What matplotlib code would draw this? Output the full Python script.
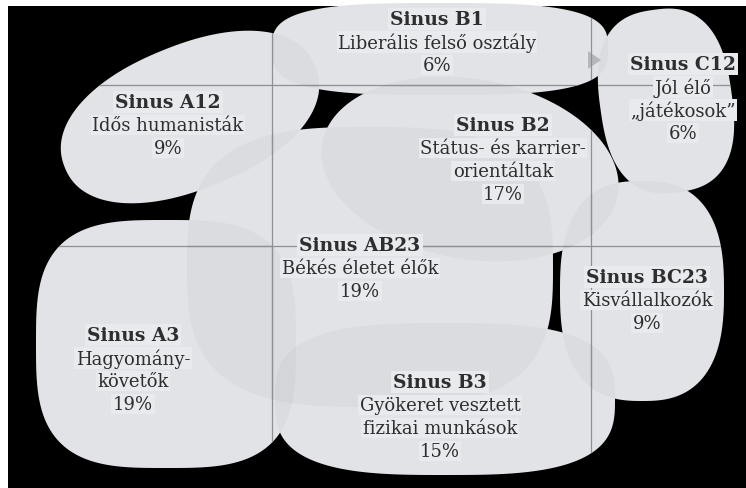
import matplotlib.pyplot as plt
import numpy as np
from matplotlib.patches import Polygon, Rectangle

# Sinus-milieuk: név, leírás, arány
segments = ['Sinus A12', 'Sinus B1', 'Sinus C12', 'Sinus B2',
            'Sinus AB23', 'Sinus A3', 'Sinus B3', 'Sinus BC23']
descriptions = ['Idős humanisták', 'Liberális felső osztály',
                'Jól élő\n„játékosok”', 'Státus- és karrier-\norientáltak',
                'Békés életet élők', 'Hagyomány-\nkövetők',
                'Gyökeret vesztett\nfizikai munkások', 'Kisvállalkozók']
shares = [9, 6, 6, 17, 19, 19, 15, 9]

# blob geometry (pixels): cx, cy, half-width, half-height, exponent, rotation
blobs = [
    (190, 118, 135, 72, 2.2, -22),
    (440, 50, 168, 46, 3.2, 0),
    (666, 102, 66, 92, 2.6, -8),
    (470, 170, 150, 90, 2.0, 10),
    (370, 268, 183, 140, 3.0, 0),
    (166, 345, 130, 124, 3.2, 0),
    (445, 400, 170, 76, 3.0, 0),
    (642, 292, 82, 110, 2.6, 0),
]
# label centres (pixels)
label_pos = [(168, 103), (437, 20), (683, 65), (503, 126),
             (360, 246), (133, 336), (440, 383), (647, 278)]

W, H = 746, 489
fill = '#e8eaee'
txt = '#2e2e2e'


def blob_xy(cx, cy, a, b, n, rot):
    t = np.linspace(0, 2 * np.pi, 300)
    c, s = np.cos(t), np.sin(t)
    x = a * np.sign(c) * np.abs(c) ** (2 / n)
    y = b * np.sign(s) * np.abs(s) ** (2 / n)
    r = np.deg2rad(rot)
    xr = x * np.cos(r) - y * np.sin(r)
    yr = x * np.sin(r) + y * np.cos(r)
    return np.column_stack([cx + xr, cy + yr])


fig = plt.figure(figsize=(W / 100, H / 100), dpi=100, facecolor='white')
ax = fig.add_axes([0, 0, 1, 1])
ax.set_xlim(0, W)
ax.set_ylim(H, 0)
ax.axis('off')
ax.add_patch(Rectangle((8, 7), W, H, facecolor='black', edgecolor='none'))

patches = []
for b in blobs:
    p = Polygon(blob_xy(*b), closed=True, facecolor=fill, edgecolor='none', zorder=2)
    ax.add_patch(p)
    patches.append(p)

# slightly darker tint where blobs overlap
for b in blobs:
    ax.add_patch(Polygon(blob_xy(*b), closed=True, facecolor='black',
                         edgecolor='none', alpha=0.028, zorder=3))

# small arrow at B1 / C12 border
ax.add_patch(Polygon([(588, 52), (601, 61), (588, 70)], closed=True,
                     facecolor='#b4b7bb', edgecolor='none', zorder=3))

# axis lines, visible only on the blobs
for p in patches:
    for xv in (272, 591):
        ln, = ax.plot([xv, xv], [0, H], color='#8d9094', lw=0.9, zorder=4)
        ln.set_clip_path(p)
    for yv in (86, 247):
        ln, = ax.plot([0, W], [yv, yv], color='#8d9094', lw=0.9, zorder=4)
        ln.set_clip_path(p)

for name, desc, share, (x, y) in zip(segments, descriptions, shares, label_pos):
    ax.text(x, y, name, ha='center', va='center', fontsize=13.5, fontweight='bold',
            family='DejaVu Serif', color=txt, zorder=6,
            bbox=dict(facecolor=fill, edgecolor='none', pad=1.5))
    lines = desc.split('\n') + [f'{share}%']
    for i, line in enumerate(lines):
        ax.text(x, y + 23 * (i + 1), line, ha='center', va='center', fontsize=13,
                family='DejaVu Serif', color=txt, zorder=6,
                bbox=dict(facecolor=fill, edgecolor='none', pad=1.0))

plt.savefig('out.png', dpi=100, facecolor=fig.get_facecolor())
plt.close()
